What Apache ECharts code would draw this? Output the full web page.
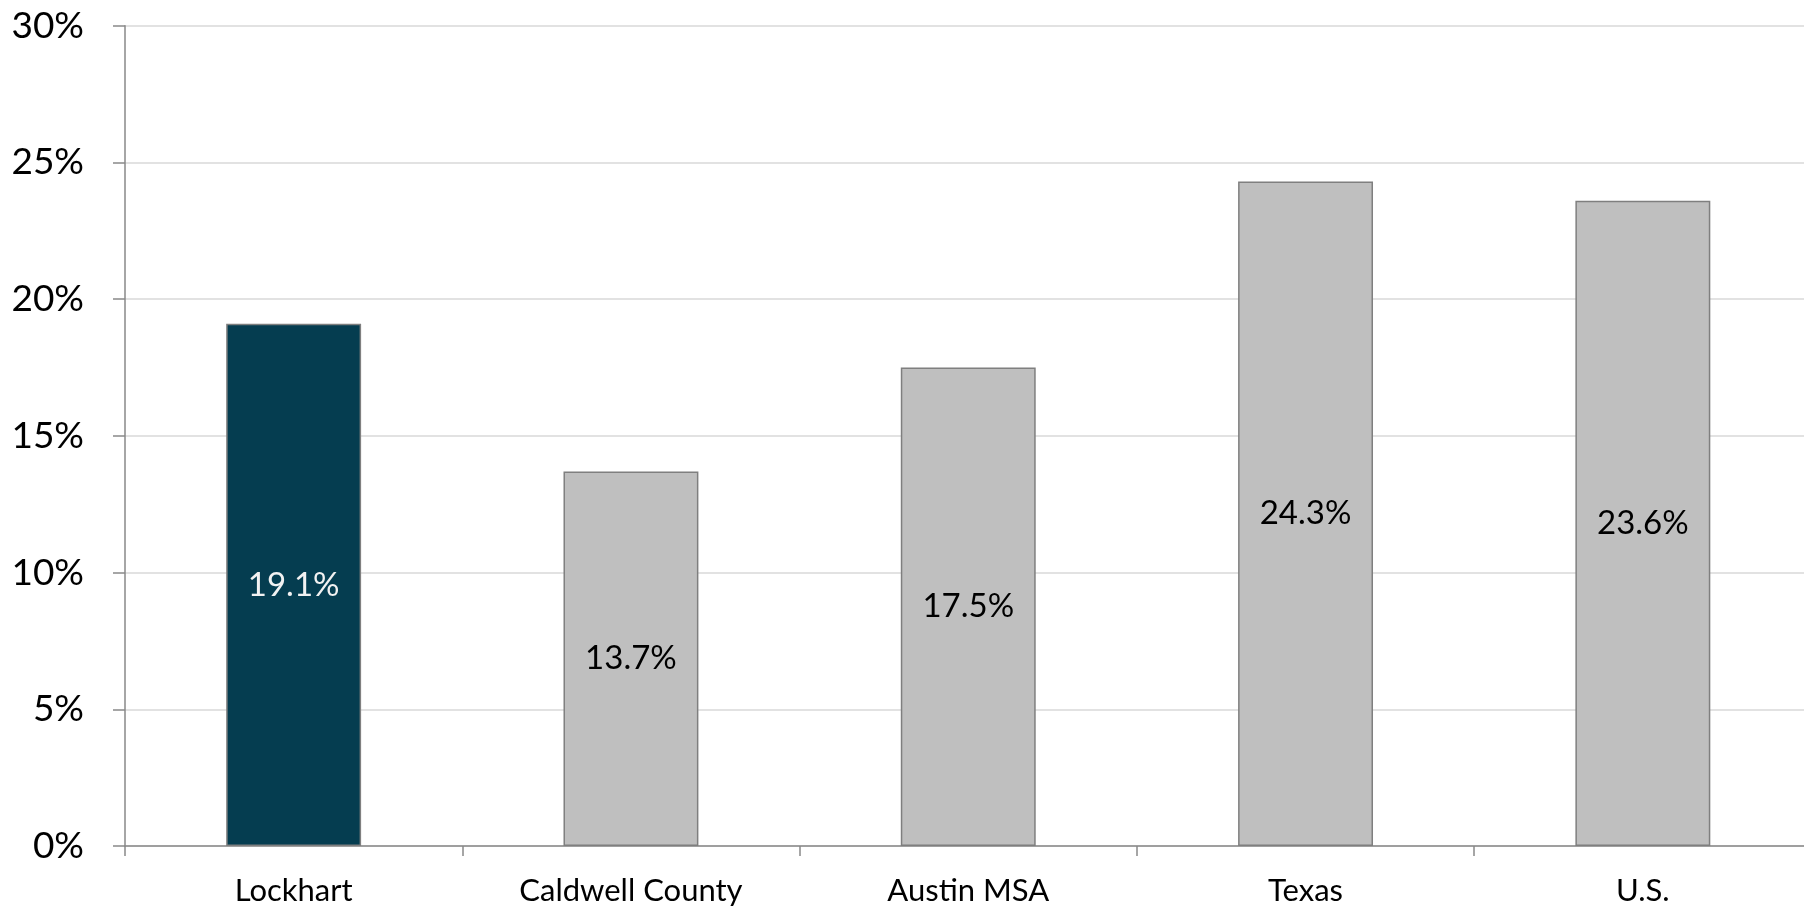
<!DOCTYPE html>
<html>
<head>
<meta charset="utf-8">
<style>
  html, body { margin: 0; padding: 0; background: #ffffff; }
  #chart { width: 1804px; height: 907px; }
</style>
<script src="https://cdn.jsdelivr.net/npm/echarts@6/dist/echarts.min.js"></script>
</head>
<body>
<div id="chart"></div>
<script>
// Share of population by area (percent)
const categories = ['Lockhart', 'Caldwell County', 'Austin MSA', 'Texas', 'U.S.'];
const values = [19.1, 13.7, 17.5, 24.3, 23.6];
const highlightIndex = 0;
const yTicks = [0, 5, 10, 15, 20, 25, 30];

const FONT = 'Lato, "Open Sans", "DejaVu Sans", sans-serif';

const chart = echarts.init(document.getElementById('chart'), null, { renderer: 'canvas' });

const barData = values.map((v, i) => ({
  value: v,
  itemStyle: { color: i === highlightIndex ? '#053d50' : '#bfbfbf' },
  label: { color: i === highlightIndex ? '#f2f2f2' : '#000000' }
}));

chart.setOption({
  animation: false,
  backgroundColor: '#ffffff',
  grid: {
    left: 125, top: 25.7, width: 1686.5, height: 820.3,
    containLabel: false, outerBoundsMode: 'none'
  },
  xAxis: {
    type: 'category',
    data: categories,
    boundaryGap: true,
    axisLine: { lineStyle: { color: '#898989', width: 1.5 } },
    axisTick: { show: true, length: 10, lineStyle: { color: '#898989', width: 1.5 } },
    axisLabel: { color: '#000000', fontFamily: FONT, fontSize: 31, margin: 29 },
    splitLine: { show: false }
  },
  yAxis: {
    type: 'value',
    min: yTicks[0],
    max: yTicks[yTicks.length - 1],
    interval: yTicks[1] - yTicks[0],
    axisLine: { show: true, lineStyle: { color: '#898989', width: 1.5 } },
    axisTick: { show: true, length: 12, lineStyle: { color: '#898989', width: 1.5 } },
    axisLabel: {
      color: '#000000', fontFamily: FONT, fontSize: 37, margin: 41,
      formatter: v => v + '%'
    },
    splitLine: { show: true, lineStyle: { color: '#d9d9d9', width: 1.5 } }
  },
  series: [{
    type: 'bar',
    data: barData,
    barWidth: '40%',
    itemStyle: { borderColor: '#7f7f7f', borderWidth: 1.5 },
    label: {
      show: true,
      position: 'inside',
      fontFamily: FONT,
      fontSize: 33,
      formatter: p => p.value.toFixed(1) + '%'
    }
  }]
});
</script>
</body>
</html>
